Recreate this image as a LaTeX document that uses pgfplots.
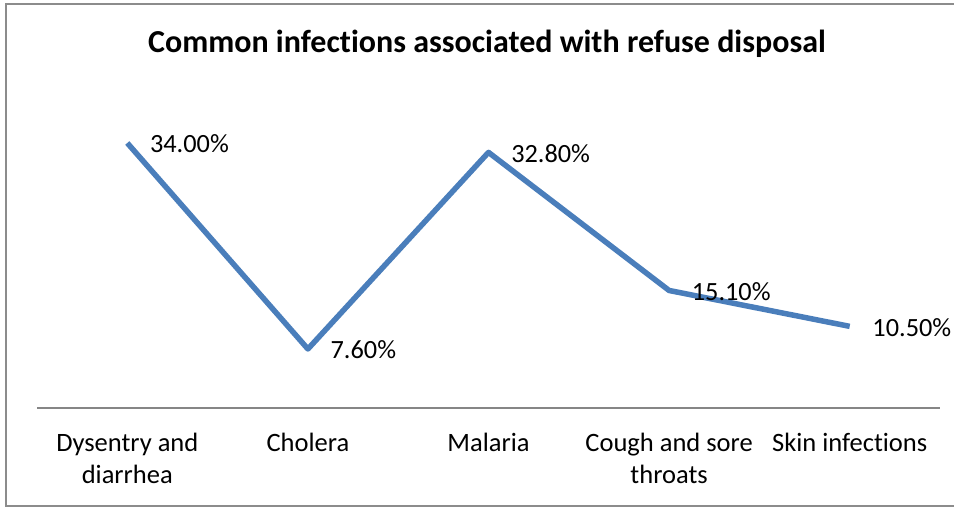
\documentclass[border=0pt]{standalone}
\usepackage{fontspec}
\setmainfont{Carlito}[Ligatures=NoCommon]
\usepackage{pgfplots}
\pgfplotsset{compat=1.18}
\definecolor{lineblue}{HTML}{4A7EBB}
\definecolor{axgray}{HTML}{868686}
\definecolor{frgray}{HTML}{8C8C8C}
\begin{document}
\begin{tikzpicture}[x=1pt,y=1pt]
\useasboundingbox (0,0) rectangle (954,508);
\draw[frgray, line width=1.5pt] (6,504) rectangle (975,2);
\node[font=\fontsize{32}{38}\selectfont\bfseries, anchor=base, inner sep=0pt] at (487,455) {Common infections associated with refuse disposal};
\begin{axis}[
  at={(37pt,99.7pt)}, anchor=south west,
  scale only axis, width=903pt, height=312.1pt,
  xmin=-0.5, xmax=4.5, ymin=0, ymax=40,
  axis x line*=bottom, axis y line=none,
  x axis line style={-, axgray, line width=1.8pt},
  xtick={0,1,2,3,4},
  xticklabels={Dysentry and\\diarrhea, Cholera, Malaria, Cough and sore\\throats, Skin infections},
  major tick length=0pt,
  ytick=\empty,
  xticklabel style={font=\fontsize{26.5}{32.5}\selectfont, align=center, anchor=north, inner sep=0pt, yshift=-24.5pt},
  clip=false,
  /pgf/number format/assume math mode=true,
  nodes near coords={\pgfmathprintnumber[fixed,fixed zerofill,precision=2]{\pgfplotspointmeta}\%},
  every node near coord/.style={anchor=west, xshift=20pt, yshift=-1pt, inner sep=0pt, font=\fontsize{26.3}{32}\selectfont, text=black},
]
\addplot[color=lineblue, line width=5.5pt, line join=round, mark=none] coordinates {
  (0,34.0) (1,7.6) (2,32.8) (3,15.1) (4,10.5)
};
\end{axis}
\end{tikzpicture}
\end{document}
